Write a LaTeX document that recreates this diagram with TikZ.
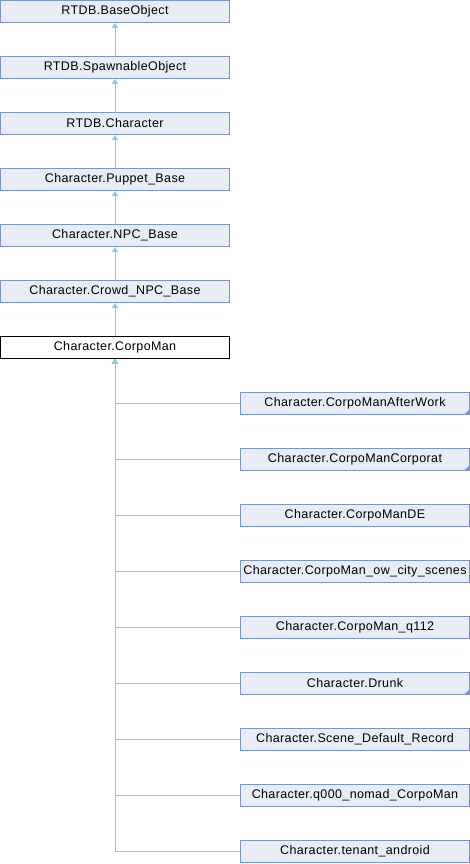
\documentclass[tikz,border=0pt]{standalone}
\usepackage{fontspec}
\setmainfont{Liberation Sans}[LetterSpace=3]
\usetikzlibrary{arrows.meta}
\definecolor{boxfill}{RGB}{232,236,245}
\definecolor{boxline}{RGB}{124,149,198}
\definecolor{edgeblue}{RGB}{140,198,232}
\tikzset{
  cls/.style={draw=boxline, fill=boxfill, line width=0.9pt, minimum width=229pt,
    minimum height=22pt, inner sep=0pt, font=\fontsize{12.5}{14}\selectfont},
  focus/.style={cls, draw=black, fill=white},
  inh/.style={draw=edgeblue, line width=1pt, -{Triangle[width=6pt,length=5pt]}},
}
\begin{document}
\begin{tikzpicture}[x=1pt,y=-1pt]
    \useasboundingbox (0,0) rectangle (470,864);

    % Draw the chain of base classes
    \foreach \name [count=\i from 0] in {RTDB.BaseObject, RTDB.SpawnableObject,
        RTDB.Character, Character.Puppet\_Base, Character.NPC\_Base,
        Character.Crowd\_NPC\_Base} {
        \node[cls] (p\i) at (115, 11.5+56*\i) {\name};
      }
    \node[focus] (p6) at (115, 347.5) {Character.CorpoMan};

    \foreach \i [evaluate=\i as \j using int(\i-1)] in {1,...,6}
    \draw[inh] (p\i.north) -- (p\j.south);

    % Draw the derived classes and their connectors
    \foreach \name [count=\i] in {Character.CorpoManAfterWork,
        Character.CorpoManCorporat, Character.CorpoManDE,
        Character.CorpoMan\_ow\_city\_scenes, Character.CorpoMan\_q112,
        Character.Drunk, Character.Scene\_Default\_Record,
        Character.q000\_nomad\_CorpoMan, Character.tenant\_android} {
        \node[cls] (c\i) at (355, 347.5+56*\i) {\name};
        \draw[inh] (c\i.west) -| (p6.south);
      }

    % Mark the classes that have more children
    \foreach \i in {1,2,6}
    \fill[boxline] (c\i.south east) -- ++(-6,0) -- ++(6,-6) -- cycle;
  \end{tikzpicture}
\end{document}
